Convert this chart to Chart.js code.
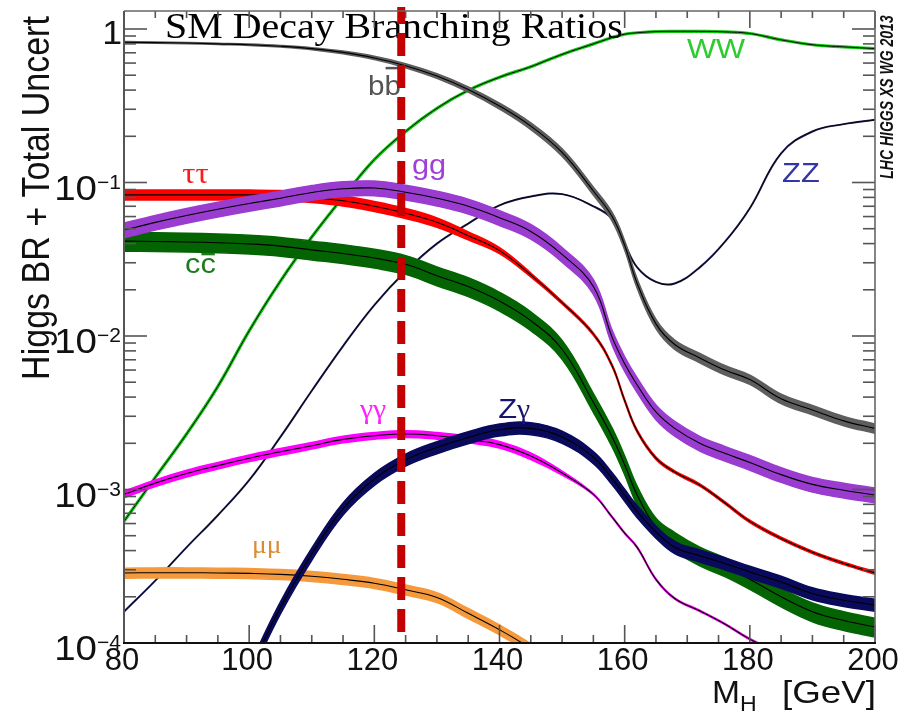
<!DOCTYPE html>
<html>
<head>
<meta charset="utf-8">
<title>SM Decay Branching Ratios</title>
<script src="https://cdn.jsdelivr.net/npm/chart.js@4.4.1/dist/chart.umd.min.js"></script>
<style>
    html, body { margin: 0; padding: 0; background: #fff; }
    #wrap { width: 904px; height: 720px; }
</style>
</head>
<body>
<div id="wrap"><canvas id="br-chart" width="904" height="720"></canvas></div>
<script>
// ===================================
// Data
// ===================================

const masses = [80, 85, 90, 95, 100, 105, 110, 115, 120, 125, 130, 135, 140, 145, 150,
                155, 158, 160, 162, 165, 168, 172, 176, 180, 185, 190, 195, 200];

const brBB = [0.82, 0.815, 0.81, 0.80, 0.79, 0.772, 0.745, 0.704, 0.648, 0.577, 0.494, 0.404, 0.315, 0.233, 0.157,
              0.088, 0.060, 0.039, 0.022, 0.012, 0.0088, 0.0072, 0.006, 0.0052, 0.0039, 0.0033, 0.0028, 0.0025];
const brWW = [6.2e-4, 1.2e-3, 2.3e-3, 4.7e-3, 0.0108, 0.0228, 0.0441, 0.0803, 0.141, 0.215, 0.304, 0.398, 0.485, 0.568, 0.683,
              0.80, 0.88, 0.925, 0.945, 0.962, 0.966, 0.965, 0.958, 0.935, 0.85, 0.79, 0.765, 0.745];
const brZZ = [1.6e-4, 2.55e-4, 4.2e-4, 6.8e-4, 1.15e-3, 2.2e-3, 4.4e-3, 8.6e-3, 0.0159, 0.0264, 0.040, 0.054, 0.071, 0.081, 0.084,
              0.070, 0.058, 0.040, 0.028, 0.0225, 0.022, 0.028, 0.041, 0.068, 0.155, 0.215, 0.24, 0.256];
const brTauTau = [0.083, 0.083, 0.083, 0.083, 0.083, 0.0825, 0.080, 0.076, 0.070, 0.063, 0.055, 0.045, 0.036, 0.025, 0.0165,
                  0.0103, 0.0064, 0.0038, 0.0024, 0.0016, 0.0013, 0.00107, 8.2e-4, 6.2e-4, 4.8e-4, 3.9e-4, 3.3e-4, 2.86e-4];
const brGG = [0.049, 0.055, 0.061, 0.067, 0.073, 0.079, 0.086, 0.091, 0.092, 0.0865, 0.079, 0.070, 0.059, 0.048, 0.034,
              0.021, 0.0098, 0.0066, 0.0048, 0.0032, 0.0025, 0.0020, 0.00172, 0.0015, 0.00125, 0.00108, 0.00099, 0.00092];
const brCC = [0.0415, 0.0413, 0.041, 0.0405, 0.0398, 0.0385, 0.0364, 0.0345, 0.0322, 0.0293, 0.0247, 0.021, 0.0169, 0.0126, 0.0082,
              0.0037, 0.0022, 0.00145, 9.2e-4, 5.7e-4, 4.6e-4, 3.7e-4, 3.15e-4, 2.6e-4, 2.0e-4, 1.6e-4, 1.4e-4, 1.27e-4];
const brGamGam = [9.3e-4, 1.1e-3, 1.27e-3, 1.43e-3, 1.6e-3, 1.76e-3, 1.93e-3, 2.12e-3, 2.24e-3, 2.3e-3, 2.24e-3, 2.12e-3, 1.96e-3, 1.65e-3, 1.28e-3,
                  9.3e-4, 6.6e-4, 5.2e-4, 4.2e-4, 2.6e-4, 1.95e-4, 1.62e-4, 1.33e-4, 1.06e-4, 8.5e-5, 7e-5, 6e-5, 5e-5];
const brZGam = [null, null, null, null, 6.5e-5, 1.7e-4, 3.8e-4, 7.5e-4, 1.17e-3, 1.56e-3, 1.88e-3, 2.18e-3, 2.45e-3, 2.5e-3, 2.2e-3,
                1.62e-3, 1.18e-3, 9.2e-4, 7.2e-4, 5.3e-4, 4.2e-4, 3.7e-4, 3.3e-4, 2.9e-4, 2.5e-4, 2.1e-4, 1.9e-4, 1.77e-4];
const brMuMu = [2.86e-4, 2.87e-4, 2.87e-4, 2.86e-4, 2.84e-4, 2.8e-4, 2.72e-4, 2.6e-4, 2.45e-4, 2.22e-4, 1.98e-4, 1.56e-4, 1.22e-4, 9.2e-5, 6.5e-5,
                null, null, null, null, null, null, null, null, null, null, null, null, null];

// relative total uncertainty (half width of each band)
const uncBB = [0.01, 0.01, 0.01, 0.01, 0.01, 0.012, 0.015, 0.02, 0.025, 0.03, 0.035, 0.04, 0.045, 0.05, 0.055,
               0.06, 0.065, 0.07, 0.07, 0.07, 0.07, 0.07, 0.07, 0.07, 0.07, 0.07, 0.07, 0.07];
const uncTauTau = [0.075, 0.075, 0.075, 0.075, 0.075, 0.075, 0.075, 0.075, 0.075, 0.075, 0.07, 0.06, 0.045, 0.03, 0.02,
                   0.018, 0.018, 0.018, 0.018, 0.018, 0.018, 0.018, 0.018, 0.018, 0.018, 0.018, 0.018, 0.018];
const uncGamGam = [0.05, 0.05, 0.05, 0.05, 0.05, 0.05, 0.05, 0.05, 0.05, 0.05, 0.05, 0.05, 0.05, 0.05, 0.03,
                   0.01, 0.01, 0.01, 0.01, 0.01, 0.01, 0.01, 0.01, 0.01, 0.01, 0.01, 0.01, 0.01];
const uncGG = 0.11;
const uncCC = 0.14;
const uncZGam = 0.09;
const uncMuMu = 0.075;

const xTickValues = [80, 100, 120, 140, 160, 180, 200];
const yTickExps = [-4, -3, -2, -1, 0];
const markMass = 124.3;

const xMin = 80, xMax = 200, yMin = 1e-4, yMax = 1.31;

// ===================================
// Styles
// ===================================

const SANS = '"Liberation Sans", Arial, Helvetica, sans-serif';
const SERIF = '"Liberation Serif", "Times New Roman", "DejaVu Serif", serif';

// order: higher is drawn first (further back)
const seriesStyles = [
    { name: 'WW', values: brWW, unc: null, color: '#16c216', width: 3.2, order: 90 },
    { name: 'ZZ', values: brZZ, unc: null, color: '#22225a', width: 2.0, order: 85 },
    { name: 'bb', values: brBB, unc: uncBB, color: '#5e5e5e', order: 80 },
    { name: 'mumu', values: brMuMu, unc: uncMuMu, color: '#f59a3c', order: 70 },
    { name: 'tautau', values: brTauTau, unc: uncTauTau, color: '#ff0000', order: 60 },
    { name: 'cc', values: brCC, unc: uncCC, color: '#046404', order: 50 },
    { name: 'gamgam', values: brGamGam, unc: uncGamGam, color: '#ff00ff', order: 45 },
    { name: 'Zgam', values: brZGam, unc: uncZGam, color: '#0a0a5c', order: 40 },
    { name: 'gg', values: brGG, unc: uncGG, color: '#9a3ccf', order: 30 }
];

const curveLabels = [
    { mass: 89.3, br: 0.099, color: '#ff1a1a', parts: [{ t: 'ττ', font: SERIF, size: 30 }] },
    { mass: 126.0, br: 0.1136, color: '#a040d8', parts: [{ t: 'gg', font: SANS, size: 28 }] },
    { mass: 119.0, br: 0.371, color: '#555555', parts: [{ t: 'b', font: SANS, size: 27 }, { t: 'b', font: SANS, size: 27, bar: 27 }] },
    { mass: 89.75, br: 0.0257, color: '#1f7a1f', parts: [{ t: 'c', font: SANS, size: 28 }, { t: 'c', font: SANS, size: 28, bar: 19 }] },
    { mass: 169.96, br: 0.647, color: '#2ccc2c', parts: [{ t: 'WW', font: SANS, size: 28 }] },
    { mass: 185.15, br: 0.1008, color: '#3535a8', parts: [{ t: 'ZZ', font: SANS, size: 28 }] },
    { mass: 117.7, br: 0.00292, color: '#ff22ff', parts: [{ t: 'γγ', font: SERIF, size: 27 }] },
    { mass: 139.8, br: 0.00292, color: '#16166e', parts: [{ t: 'Z', font: SANS, size: 28 }, { t: 'γ', font: SERIF, size: 27 }] },
    { mass: 100.45, br: 3.86e-4, color: '#dd8a30', parts: [{ t: 'μμ', font: SERIF, size: 25 }] }
];

// ===================================
// Helpers
// ===================================

function toPoints(values) {
    return masses.map((m, i) => ({ x: m, y: values[i] }));
}

function toBand(values, unc, sign) {
    return masses.map((m, i) => {
        const v = values[i];
        if (v === null) return { x: m, y: null };
        const u = Array.isArray(unc) ? unc[i] : unc;
        return { x: m, y: v * (1 + sign * u) };
    });
}

function buildDatasets() {
    const sets = [];
    seriesStyles.forEach(s => {
        if (s.unc !== null) {
            sets.push({ label: s.name + ' up', data: toBand(s.values, s.unc, 1), borderColor: s.color,
                        backgroundColor: s.color, borderWidth: 1.5, fill: '+1', order: s.order + 1 });
            sets.push({ label: s.name + ' down', data: toBand(s.values, s.unc, -1), borderColor: s.color,
                        borderWidth: 1.5, fill: false, order: s.order + 1 });
            sets.push({ label: s.name, data: toPoints(s.values), borderColor: '#000', borderWidth: 1.1,
                        fill: false, order: s.order });
        } else {
            sets.push({ label: s.name, data: toPoints(s.values), borderColor: s.color, borderWidth: s.width,
                        fill: false, order: s.order + 1 });
            sets.push({ label: s.name + ' core', data: toPoints(s.values), borderColor: '#000', borderWidth: 0.9,
                        fill: false, order: s.order });
        }
    });
    return sets;
}

function putText(ctx, text, x, y, font, color, align, sx) {
    ctx.save();
    ctx.translate(x, y);
    ctx.scale(sx || 1, 1);
    ctx.font = font;
    ctx.fillStyle = color;
    ctx.textAlign = align || 'left';
    ctx.textBaseline = 'alphabetic';
    ctx.fillText(text, 0, 0);
    const w = ctx.measureText(text).width * (sx || 1);
    ctx.restore();
    return w;
}

function strokeLine(ctx, x1, y1, x2, y2) {
    ctx.beginPath();
    ctx.moveTo(x1, y1);
    ctx.lineTo(x2, y2);
    ctx.stroke();
}

function drawCurveLabels(ctx, scales) {
    curveLabels.forEach(lab => {
        let x = scales.x.getPixelForValue(lab.mass);
        const y = scales.y.getPixelForValue(lab.br);
        lab.parts.forEach(p => {
            const w = putText(ctx, p.t, x, y, p.size + 'px ' + p.font, lab.color, 'left', 1.1);
            if (p.bar) {
                ctx.save();
                ctx.setLineDash([]);
                ctx.strokeStyle = lab.color;
                ctx.lineWidth = 2.5;
                strokeLine(ctx, x + 1, y - p.bar, x + w - 1, y - p.bar);
                ctx.restore();
            }
            x += w;
        });
    });
}

function drawMarkLine(ctx, area, scales) {
    const px = scales.x.getPixelForValue(markMass);
    ctx.save();
    ctx.strokeStyle = '#c40000';
    ctx.lineWidth = 8;
    ctx.setLineDash([23, 9]);
    strokeLine(ctx, px, area.bottom - 11, px, area.top - 4);
    ctx.restore();
}

function drawFrame(ctx, area, scales) {
    const { left, right, top, bottom } = area;
    ctx.save();
    ctx.lineCap = 'butt';

    // x ticks (inward, bottom and top)
    ctx.strokeStyle = '#555';
    ctx.lineWidth = 1.6;
    for (let m = xMin; m <= xMax; m += 5) {
        const px = scales.x.getPixelForValue(m);
        const major = xTickValues.includes(m);
        strokeLine(ctx, px, bottom, px, bottom - (major ? 18 : 8));
        strokeLine(ctx, px, top, px, top + (major ? 17 : 7));
    }

    // y ticks (inward, left and right)
    for (let e = -4; e <= 0; e++) {
        for (let k = 1; k <= 9; k++) {
            const v = k * Math.pow(10, e);
            if (v < yMin || v > yMax) continue;
            const py = scales.y.getPixelForValue(v);
            const len = k === 1 ? 23 : 12;
            strokeLine(ctx, left, py, left + len, py);
            strokeLine(ctx, right, py, right - len, py);
        }
    }

    // box
    ctx.strokeStyle = '#666';
    ctx.lineWidth = 1.6;
    strokeLine(ctx, left, top, right, top);
    strokeLine(ctx, right, top, right, bottom);
    ctx.strokeStyle = '#555';
    ctx.lineWidth = 2;
    strokeLine(ctx, left, top, left, bottom);
    ctx.strokeStyle = '#111';
    strokeLine(ctx, left - 1, bottom, right + 1, bottom);
    ctx.restore();
}

function drawAxisText(ctx, area, scales) {
    // x tick labels
    xTickValues.forEach(v => {
        const px = scales.x.getPixelForValue(v);
        putText(ctx, String(v), px - 2, area.bottom + 27, '31px ' + SANS, '#111', 'center', 1.0);
    });

    // y tick labels with exponents
    yTickExps.forEach(e => {
        const py = scales.y.getPixelForValue(Math.pow(10, e));
        if (e === 0) {
            putText(ctx, '1', area.left - 2, py + 15, '34px ' + SANS, '#111', 'right', 1.05);
        } else {
            putText(ctx, '10', area.left - 27, py + 17, '35px ' + SANS, '#111', 'right', 1.1);
            putText(ctx, '\u2212' + Math.abs(e), area.left - 27, py + 6, '20px ' + SANS, '#111', 'left', 1.05);
        }
    });

    // x axis title
    const base = area.bottom + 60;
    putText(ctx, 'M', area.right - 163, base, '32px ' + SANS, '#111', 'left', 1.05);
    putText(ctx, 'H', area.right - 135, base + 8, '22px ' + SANS, '#111', 'left', 1.05);
    putText(ctx, '[GeV]', area.right + 1, base, '32px ' + SANS, '#111', 'right', 1.15);

    // y axis title
    ctx.save();
    ctx.translate(49, 198);
    ctx.rotate(-Math.PI / 2);
    ctx.scale(1, 1.15);
    ctx.font = '34px ' + SANS;
    ctx.fillStyle = '#111';
    ctx.textAlign = 'center';
    ctx.fillText('Higgs BR + Total Uncert', 0, 0);
    ctx.restore();

    // working group tag
    ctx.save();
    ctx.translate(893, 97);
    ctx.rotate(-Math.PI / 2);
    ctx.scale(1, 1.3);
    ctx.font = 'italic bold 14px ' + SANS;
    ctx.fillStyle = '#111';
    ctx.textAlign = 'center';
    ctx.fillText('LHC HIGGS XS WG 2013', 0, 0);
    ctx.restore();
}

// ===================================
// Chart
// ===================================

const decorPlugin = {
    id: 'decor',
    afterDatasetsDraw(chart) {
        const { ctx, chartArea, scales } = chart;
        drawCurveLabels(ctx, scales);
        putText(ctx, 'SM Decay Branching Ratios', 165, 38, '35px ' + SERIF, '#000', 'left', 1.14);
        drawMarkLine(ctx, chartArea, scales);
    },
    afterDraw(chart) {
        const { ctx, chartArea, scales } = chart;
        drawFrame(ctx, chartArea, scales);
        drawAxisText(ctx, chartArea, scales);
    }
};

const canvas = document.getElementById('br-chart');
const brChart = new Chart(canvas.getContext('2d'), {
    type: 'line',
    data: { datasets: buildDatasets() },
    options: {
        responsive: false,
        animation: false,
        devicePixelRatio: 1,
        events: [],
        layout: { padding: { left: 124, right: 29, top: 11, bottom: 77 } },
        datasets: {
            line: {
                pointRadius: 0,
                tension: 0.4,
                borderJoinStyle: 'round',
                spanGaps: false,
                clip: 0
            }
        },
        plugins: {
            legend: { display: false },
            tooltip: { enabled: false }
        },
        scales: {
            x: { type: 'linear', min: xMin, max: xMax, display: false },
            y: { type: 'logarithmic', min: yMin, max: yMax, display: false }
        }
    },
    plugins: [decorPlugin]
});
</script>
</body>
</html>
